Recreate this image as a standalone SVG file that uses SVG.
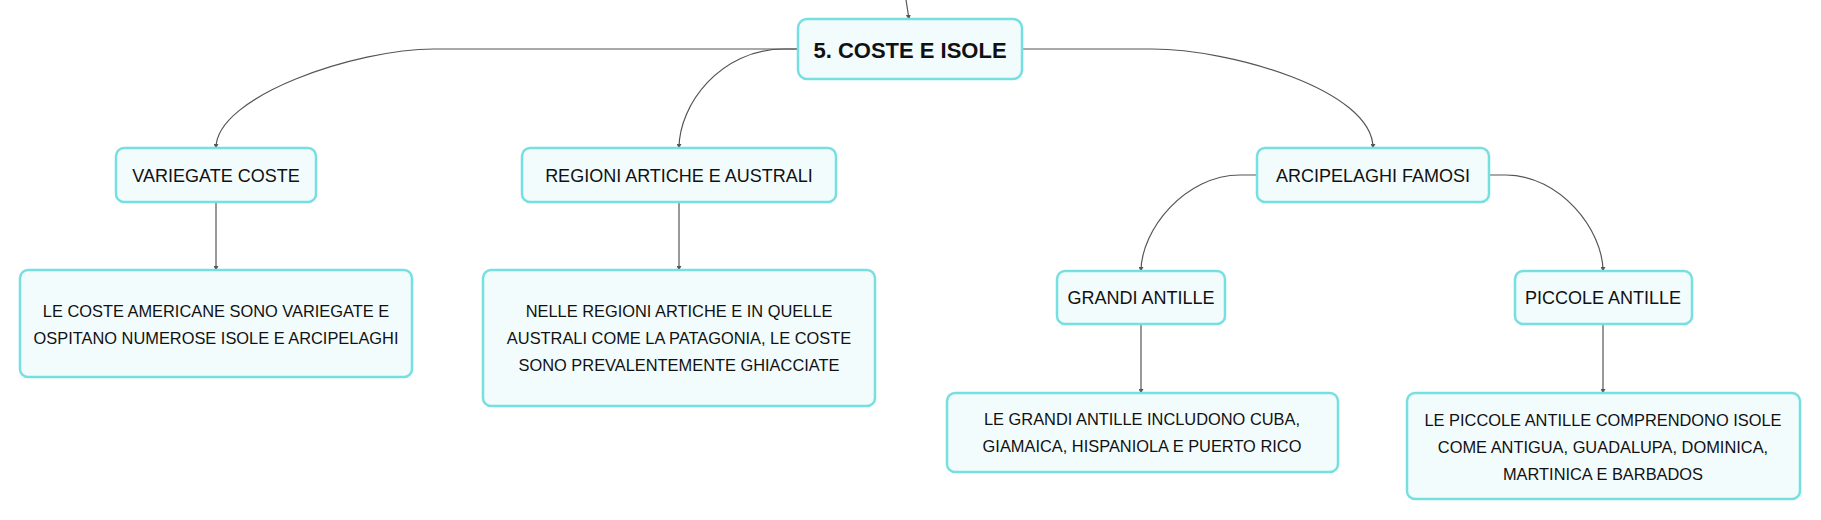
<svg xmlns="http://www.w3.org/2000/svg" width="1821" height="520" viewBox="0 0 1821 520">
<style>
.box{fill:#f2fcfd;stroke:#76dfe0;stroke-width:2.5}
.t{font-family:"Liberation Sans",Arial,sans-serif;fill:#111;text-anchor:middle;dominant-baseline:central}
.t1{font-size:18px}
.t2{font-size:16.4px}
.t0{font-size:22px;font-weight:bold}
.c{fill:none;stroke:#555;stroke-width:1.2}
</style>
<defs>
<marker id="a" viewBox="0 0 6 6" refX="5" refY="3" markerWidth="5" markerHeight="5" orient="auto" markerUnits="userSpaceOnUse"><path d="M0,0 L6,3 L0,6 z" fill="#555"/></marker>
</defs>
<g id="connectors">
<path class="c" d="M906,0 L909,19" marker-end="url(#a)"/>
<path class="c" d="M798,49 H434 C356,49 216,96 216,148" marker-end="url(#a)"/>
<path class="c" d="M798,49 H784 C720,49 679,105 679,148" marker-end="url(#a)"/>
<path class="c" d="M1022,49 H1152 C1230,49 1373,90 1373,148" marker-end="url(#a)"/>
<path class="c" d="M1256,175 H1240 C1185,175 1141,230 1141,271" marker-end="url(#a)"/>
<path class="c" d="M1489,175 H1506 C1560,175 1603,230 1603,271" marker-end="url(#a)"/>
<path class="c" d="M216,202 V270" marker-end="url(#a)"/>
<path class="c" d="M679,202 V270" marker-end="url(#a)"/>
<path class="c" d="M1141,324 V393" marker-end="url(#a)"/>
<path class="c" d="M1603,324 V393" marker-end="url(#a)"/>
</g>
<g id="n0"><rect class="box" x="798" y="19" width="224" height="60" rx="9"/><text class="t t0" x="910" y="50">5. COSTE E ISOLE</text></g>
<g id="n1"><rect class="box" x="116" y="148" width="200" height="54" rx="8"/><text class="t t1" x="216" y="176">VARIEGATE COSTE</text></g>
<g id="n2"><rect class="box" x="522" y="148" width="314" height="54" rx="8"/><text class="t t1" x="679" y="176">REGIONI ARTICHE E AUSTRALI</text></g>
<g id="n3"><rect class="box" x="1257" y="148" width="232" height="54" rx="8"/><text class="t t1" x="1373" y="176">ARCIPELAGHI FAMOSI</text></g>
<g id="n4"><rect class="box" x="20" y="270" width="392" height="107" rx="8"/><text class="t t2" x="216" y="311">LE COSTE AMERICANE SONO VARIEGATE E</text><text class="t t2" x="216" y="338">OSPITANO NUMEROSE ISOLE E ARCIPELAGHI</text></g>
<g id="n5"><rect class="box" x="483" y="270" width="392" height="136" rx="8"/><text class="t t2" x="679" y="311">NELLE REGIONI ARTICHE E IN QUELLE</text><text class="t t2" x="679" y="338">AUSTRALI COME LA PATAGONIA, LE COSTE</text><text class="t t2" x="679" y="365">SONO PREVALENTEMENTE GHIACCIATE</text></g>
<g id="n6"><rect class="box" x="1057" y="271" width="168" height="53" rx="8"/><text class="t t1" x="1141" y="298">GRANDI ANTILLE</text></g>
<g id="n7"><rect class="box" x="1515" y="271" width="177" height="53" rx="8"/><text class="t t1" x="1603" y="298">PICCOLE ANTILLE</text></g>
<g id="n8"><rect class="box" x="947" y="393" width="391" height="79" rx="8"/><text class="t t2" x="1142" y="419">LE GRANDI ANTILLE INCLUDONO CUBA,</text><text class="t t2" x="1142" y="446">GIAMAICA, HISPANIOLA E PUERTO RICO</text></g>
<g id="n9"><rect class="box" x="1407" y="393" width="393" height="106" rx="8"/><text class="t t2" x="1603" y="420">LE PICCOLE ANTILLE COMPRENDONO ISOLE</text><text class="t t2" x="1603" y="447">COME ANTIGUA, GUADALUPA, DOMINICA,</text><text class="t t2" x="1603" y="474">MARTINICA E BARBADOS</text></g>
</svg>
